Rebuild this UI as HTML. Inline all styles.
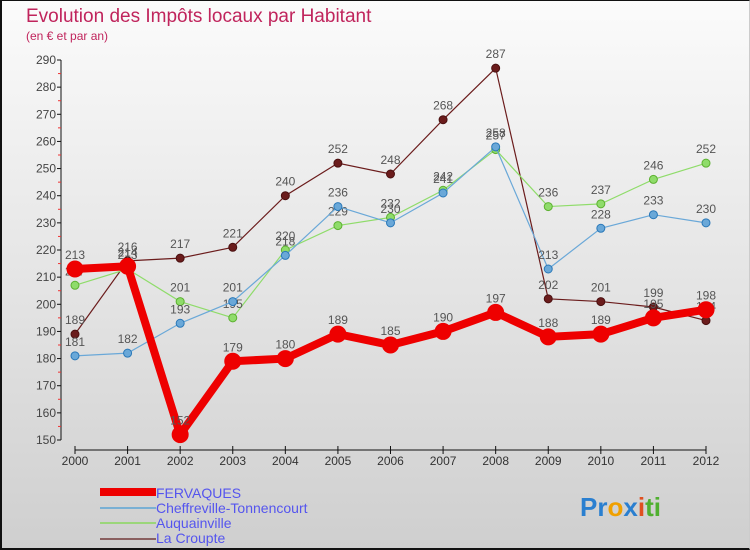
<!DOCTYPE html>
<html><head><meta charset="utf-8"><style>
body{margin:0}
#c{width:750px;height:550px;position:relative;overflow:hidden;background:linear-gradient(#fbfbfb,#cfcfcf);box-sizing:border-box;border:2px solid #111;border-top:1px solid #111;border-right:1px solid #ccc;font-family:"Liberation Sans",sans-serif}
</style></head><body>
<div id="c">
<svg id="s" width="750" height="550" style="position:absolute;left:-2px;top:-1px">
<text x="26" y="22" font-size="19" fill="#c0245c">Evolution des Impôts locaux par Habitant</text>
<text x="26" y="40" font-size="12" fill="#c0245c">(en € et par an)</text>
<g id="axes"></g><g id="series"></g>
<g>
<rect x="100" y="488" width="56" height="8" fill="#e00"/>
<rect x="100" y="507" width="56" height="2" fill="#7ab0d4"/>
<rect x="100" y="522" width="56" height="2" fill="#9bd67a"/>
<rect x="100" y="538" width="56" height="2" fill="#8a6060"/>
<g font-size="14" fill="#5555ee">
<text x="156" y="498">FERVAQUES</text>
<text x="156" y="513">Cheffreville-Tonnencourt</text>
<text x="156" y="528">Auquainville</text>
<text x="156" y="543">La Croupte</text>
</g></g>
<text x="580" y="516" font-size="26" font-weight="bold"><tspan fill="#2a7fd0">Pr</tspan><tspan fill="#f0a000">o</tspan><tspan fill="#2a7fd0">x</tspan><tspan fill="#e05020">i</tspan><tspan fill="#50b030">ti</tspan></text>
</svg>
</div>
<script>
const years=[2000,2001,2002,2003,2004,2005,2006,2007,2008,2009,2010,2011,2012];
const fervaques=[213,214,152,179,180,189,185,190,197,188,189,195,198];
const cheffreville=[181,182,193,201,218,236,230,241,258,213,228,233,230];
const auquainville=[207,213,201,195,220,229,232,242,257,236,237,246,252];
const laCroupte=[189,216,217,221,240,252,248,268,287,202,201,199,194];
const yTicks=[150,160,170,180,190,200,210,220,230,240,250,260,270,280,290];
const NS="http://www.w3.org/2000/svg";
const xS=i=>75+i*(706-75)/12;
const yS=v=>440-(v-150)*(380/140);
function mk(tag,attrs,parent,text){const e=document.createElementNS(NS,tag);for(const k in attrs)e.setAttribute(k,attrs[k]);if(text!==undefined)e.textContent=text;parent.appendChild(e);return e;}
const ax=document.getElementById('axes');
let yl=mk('line',{x1:61,y1:yS(290),x2:61,y2:yS(150),stroke:'#111'},ax);


yTicks.forEach(t=>{
  mk('line',{x1:57,x2:61,y1:yS(t),y2:yS(t),stroke:'#111'},ax);
  if(t<290)mk('line',{x1:58,x2:61,y1:yS(t+5),y2:yS(t+5),stroke:'#e33'},ax);
  const tx=mk('text',{x:56,y:yS(t)+4,'text-anchor':'end','font-size':12,fill:'#444'},ax,t);
  
  
});
let xl=mk('line',{x1:75,y1:450,x2:706,y2:450,stroke:'#111'},ax);


years.forEach((y,i)=>{
  mk('line',{x1:xS(i),x2:xS(i),y1:446,y2:454,stroke:'#111'},ax);
  const tx=mk('text',{x:xS(i),y:465,'text-anchor':'middle','font-size':12,fill:'#333'},ax,y);
  
  
});
const sg=document.getElementById('series');
function series(vals,name,color,w,r,stroke){
  const g=mk('g',{},sg);
  
  
  mk('polyline',{points:vals.map((v,i)=>xS(i)+','+yS(v)).join(' '),fill:'none',stroke:color,'stroke-width':w},g);
  vals.forEach((v,i)=>{
    const c=mk('circle',{cx:xS(i),cy:yS(v),r:r,fill:color,stroke:stroke,'stroke-width':1},g);
    
    
    const t=mk('text',{x:xS(i),y:yS(v)-10,'text-anchor':'middle','font-size':12,fill:'#555'},g,v);
    
    
  });
}
series(laCroupte,'la-croupte','#6b1c1c',1.2,4,'#4a1010');
series(auquainville,'auquainville','#8fdc6a',1.2,4,'#5cb030');
series(cheffreville,'cheffreville','#6aa8d8',1.2,4,'#2a78b8');
series(fervaques,'fervaques','#ee0000',8,8,'#ee0000');
</script>
</body></html>
